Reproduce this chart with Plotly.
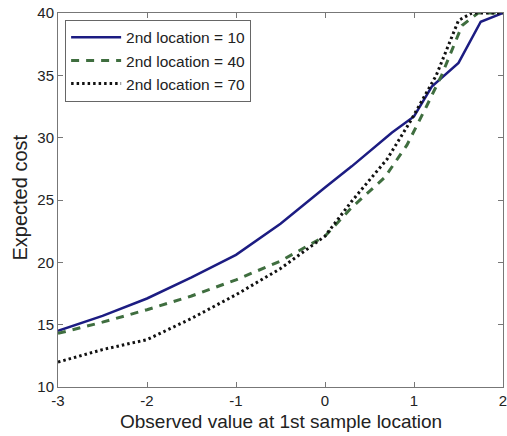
import plotly.graph_objects as go

x_solid = [-3, -2.5, -2, -1.5, -1, -0.5, 0, 0.3, 0.75, 1.0, 1.2, 1.5, 1.75, 2]
y_solid = [14.5, 15.7, 17.1, 18.8, 20.6, 23.1, 26.0, 27.7, 30.4, 31.7, 34.1, 36.0, 39.3, 40]

x_dash = [-3, -2.5, -2, -1.5, -1, -0.5, 0, 0.3, 0.67, 0.92, 1.14, 1.31, 1.54, 1.72, 2]
y_dash = [14.3, 15.2, 16.2, 17.3, 18.6, 20.1, 22.1, 24.4, 26.8, 29.4, 32.5, 35.0, 39.0, 40, 40]

x_dot = [-3, -2.5, -2, -1.5, -1, -0.5, 0, 0.3, 0.7, 0.95, 1.25, 1.5, 1.65, 2]
y_dot = [12.0, 13.0, 13.8, 15.5, 17.4, 19.5, 22.1, 24.9, 28.3, 31.2, 35.0, 39.4, 40, 40]

names = ["2nd location = 10", "2nd location = 40", "2nd location = 70"]

x_ticks = [-3, -2, -1, 0, 1, 2]
x_ticktext = ["-3", "-2", "-1", "0", "1", "2"]
y_ticks = [10, 15, 20, 25, 30, 35, 40]

x_title = "Observed value at 1st sample location"
y_title = "Expected cost"

FONT = "Liberation Sans, Arial, sans-serif"

fig = go.Figure()
fig.add_trace(go.Scatter(x=x_solid, y=y_solid, mode="lines", name=names[0],
                         line=dict(color="#1c1c82", width=2.5)))
fig.add_trace(go.Scatter(x=x_dash, y=y_dash, mode="lines", name=names[1],
                         line=dict(color="#3f6e3f", width=3, dash="8px,7px")))
fig.add_trace(go.Scatter(x=x_dot, y=y_dot, mode="lines", name=names[2],
                         line=dict(color="#111111", width=3, dash="2.5px,3px")))

axis_common = dict(
    showline=True, linecolor="#777777", linewidth=1, mirror="ticks",
    ticks="inside", ticklen=5, tickcolor="#777777",
    showgrid=False, zeroline=False, automargin=False,
    ticklabeloverflow="allow",
    tickfont=dict(family=FONT, size=15, color="#222222"),
)

fig.update_layout(
    width=507, height=436,
    margin=dict(l=58, r=4, t=13, b=49),
    paper_bgcolor="white", plot_bgcolor="white",
    font=dict(family=FONT, color="#222222"),
    xaxis=dict(range=[-3, 2], tickvals=x_ticks, ticktext=x_ticktext, **axis_common),
    yaxis=dict(range=[10, 40], tickvals=y_ticks, **axis_common),
    legend=dict(x=0.016, y=0.982, xanchor="left", yanchor="top",
                bgcolor="white", bordercolor="#666666", borderwidth=1,
                font=dict(family=FONT, size=15.5), tracegroupgap=0,
                itemwidth=50),
    showlegend=True,
    annotations=[
        dict(text=x_title, xref="paper", yref="paper", x=0.5, y=-0.093,
             xanchor="center", yanchor="middle", showarrow=False,
             font=dict(family=FONT, size=19, color="#222222")),
        dict(text=y_title, xref="paper", yref="paper", x=-0.085, y=0.507,
             xanchor="center", yanchor="middle", showarrow=False, textangle=-90,
             font=dict(family=FONT, size=20, color="#222222")),
    ],
)

fig.write_html(
    "out.html",
    config={"displayModeBar": False},
    post_script="document.body.style.margin='0';document.body.style.overflow='hidden';",
)
